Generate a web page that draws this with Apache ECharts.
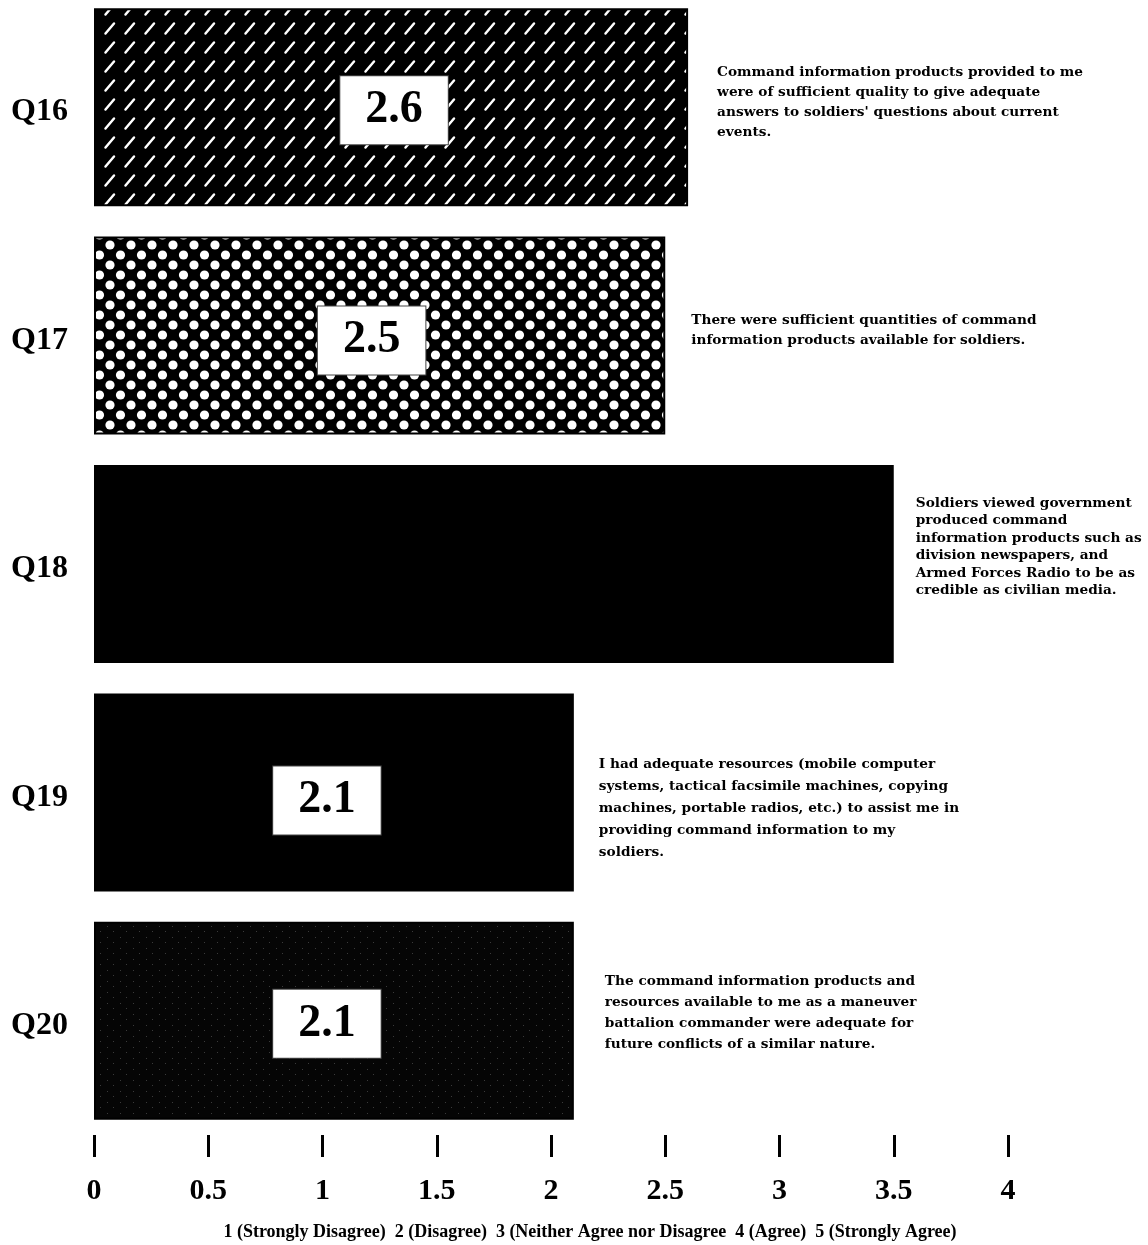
<!DOCTYPE html>
<html>
<head>
<meta charset="utf-8">
<script src="https://cdn.jsdelivr.net/npm/echarts@6/dist/echarts.min.js"></script>
<style>
html,body{margin:0;padding:0;background:#fff;}
#chart{width:1148px;height:1245px;}
</style>
</head>
<body>
<div id="chart"></div>
<script>
// ---- data ----
const categories = ['Q16', 'Q17', 'Q18', 'Q19', 'Q20'];
const values = [2.6, 2.5, 3.5, 2.1, 2.1];
const showValueLabel = [true, true, false, true, true];
const descriptions = [
  "Command information products provided to me\nwere of sufficient quality to give adequate\nanswers to soldiers' questions about current\nevents.",
  "There were sufficient quantities of command\ninformation products available for soldiers.",
  "Soldiers viewed government\nproduced command\ninformation products such as\ndivision newspapers, and\nArmed Forces Radio to be as\ncredible as civilian media.",
  "I had adequate resources (mobile computer\nsystems, tactical facsimile machines, copying\nmachines, portable radios, etc.) to assist me in\nproviding command information to my\nsoldiers.",
  "The command information products and\nresources available to me as a maneuver\nbattalion commander were adequate for\nfuture conflicts of a similar nature."
];
const xTicks = [0, 0.5, 1, 1.5, 2, 2.5, 3, 3.5, 4];
const scaleNote = '1 (Strongly Disagree)  2 (Disagree)  3 (Neither Agree nor Disagree  4 (Agree)  5 (Strongly Agree)';

// ---- patterns (style) ----
function makeCanvas(w, h) {
  const c = document.createElement('canvas');
  c.width = w; c.height = h;
  return c;
}
function dashPattern() {
  const W = 20, H = 19;
  const c = makeCanvas(W, H), g = c.getContext('2d');
  g.fillStyle = '#000'; g.fillRect(0, 0, W, H);
  g.strokeStyle = '#fff'; g.lineWidth = 2.5; g.lineCap = 'round';
  g.beginPath(); g.moveTo(5.5, 14.5); g.lineTo(14, 4.5); g.stroke();
  return c;
}
function dotPattern() {
  const W = 21, H = 20;
  const c = makeCanvas(W, H), g = c.getContext('2d');
  g.fillStyle = '#000'; g.fillRect(0, 0, W, H);
  g.fillStyle = '#fff';
  const pts = [[5, 5], [15.5, 15]];
  pts.forEach(p => {
    for (let dx = -1; dx <= 1; dx++) for (let dy = -1; dy <= 1; dy++) {
      g.beginPath(); g.arc(p[0] + dx * W, p[1] + dy * H, 4.6, 0, Math.PI * 2); g.fill();
    }
  });
  return c;
}
function speckPattern() {
  const c = makeCanvas(13, 11), g = c.getContext('2d');
  g.fillStyle = '#050505'; g.fillRect(0, 0, 13, 11);
  g.fillStyle = '#3a3a3a';
  g.fillRect(3, 2, 1, 1); g.fillRect(9, 7, 1, 1);
  return c;
}
const fills = [
  { image: dashPattern(), repeat: 'repeat' },
  { image: dotPattern(), repeat: 'repeat' },
  '#000',
  '#000',
  { image: speckPattern(), repeat: 'repeat' }
];
const valueLabelOffsets = [[3, 3], [-8, 5], [0, 0], [-7, 8], [-7, 3]];
const descDistance = [29, 26, 22, 25, 31];
const descOffsetY = [-5, -5, -17, 16, -8];
const descLineHeight = [20, 20, 17.4, 22, 21];

const chart = echarts.init(document.getElementById('chart'), null, { renderer: 'canvas' });

const serif = '"Liberation Serif", "Times New Roman", serif';

const mainData = values.map((v, i) => ({
  value: v,
  itemStyle: { color: fills[i], borderColor: '#000', borderWidth: 2 },
  label: {
    show: showValueLabel[i],
    offset: valueLabelOffsets[i]
  }
}));

const descData = values.map((v, i) => ({
  value: v,
  label: {
    formatter: descriptions[i],
    distance: descDistance[i],
    offset: [0, descOffsetY[i]],
    lineHeight: descLineHeight[i]
  }
}));

chart.setOption({
  backgroundColor: '#fff',
  animation: false,
  grid: { left: 94, right: 140, top: -7, bottom: 110, containLabel: false, outerBoundsMode: 'none' },
  xAxis: {
    type: 'value',
    min: 0, max: 4, interval: 0.5,
    axisLine: { show: false },
    splitLine: { show: false },
    axisTick: { show: true, length: 22, lineStyle: { color: '#000', width: 3 } },
    axisLabel: {
      margin: 41,
      color: '#000',
      fontFamily: serif,
      fontWeight: 'bold',
      fontSize: 30,
      formatter: v => {
        const t = xTicks.find(x => Math.abs(x - v) < 1e-9);
        return t === undefined ? '' : String(t);
      }
    }
  },
  yAxis: {
    type: 'category',
    data: categories,
    inverse: true,
    axisLine: { show: false },
    axisTick: { show: false },
    splitLine: { show: false },
    axisLabel: {
      margin: 26,
      formatter: v => '{q|' + v + '}',
      rich: {
        q: {
          color: '#000',
          fontFamily: serif,
          fontWeight: 'bold',
          fontSize: 32,
          padding: [10, 0, 0, 0]
        }
      }
    }
  },
  series: [
    {
      type: 'bar',
      barWidth: 198,
      data: mainData,
      label: {
        position: 'inside',
        formatter: p => p.value.toFixed(1),
        color: '#000',
        fontFamily: serif,
        fontWeight: 'bold',
        fontSize: 46,
        backgroundColor: '#fff',
        borderColor: '#444',
        borderWidth: 1,
        padding: [13, 25, 9, 25]
      },
      z: 2
    },
    {
      type: 'bar',
      barWidth: 198,
      barGap: '-100%',
      silent: true,
      data: descData,
      itemStyle: { color: 'rgba(0,0,0,0)' },
      label: {
        show: true,
        position: 'right',
        align: 'left',
        verticalAlign: 'middle',
        color: '#000',
        fontFamily: '"DejaVu Serif", serif',
        fontWeight: 'bold',
        fontSize: 13.7
      },
      z: 1
    }
  ],
  graphic: [
    {
      type: 'text',
      x: 590, y: 1232,
      style: {
        text: scaleNote,
        fill: '#000',
        font: 'bold 18px "Liberation Serif", serif',
        textAlign: 'center',
        textVerticalAlign: 'middle'
      }
    }
  ]
});
</script>
</body>
</html>
